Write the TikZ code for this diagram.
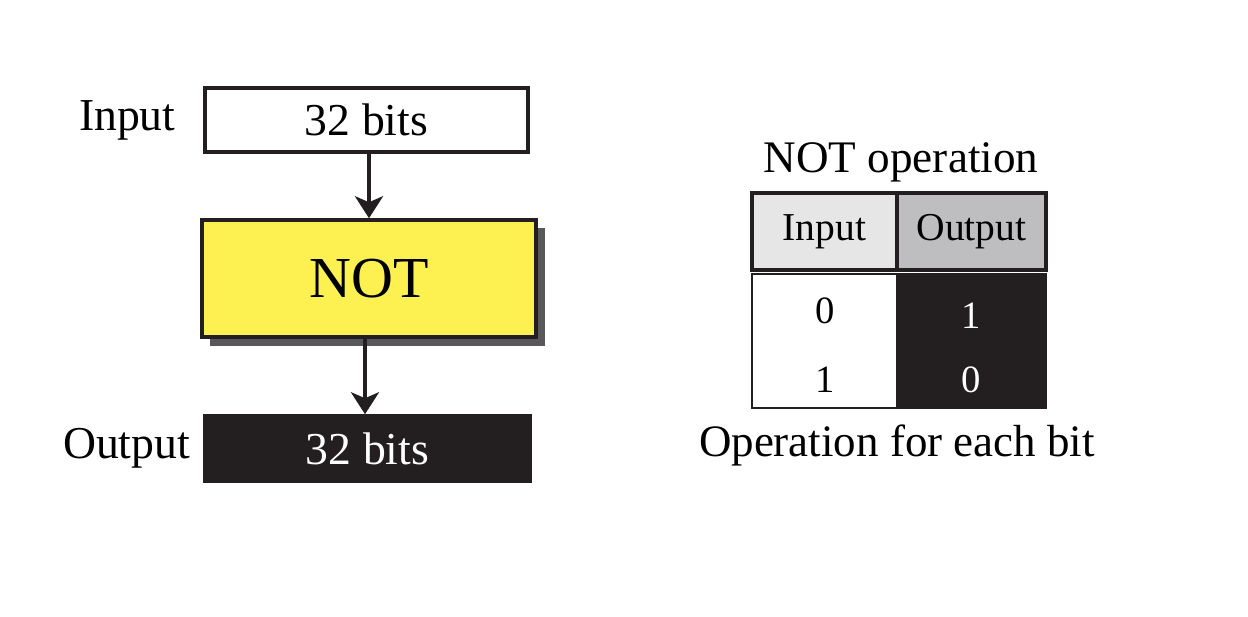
\documentclass[tikz,border=0pt]{standalone}
\usepackage{fontspec}
\setmainfont{Liberation Serif}
\usetikzlibrary{arrows, arrows.meta}
\usetikzlibrary{positioning}
\definecolor{notyellow}{RGB}{252,241,80}
\definecolor{shadowgray}{RGB}{88,88,90}
\definecolor{hdrleft}{RGB}{230,230,230}
\definecolor{hdrright}{RGB}{190,190,192}
\definecolor{ink}{RGB}{35,31,32}

\tikzset{
  box/.style={draw=ink, line width=2pt, inner sep=0pt},
  lbl/.style={inner sep=0pt, font=\fontsize{26}{26}\selectfont},
  cell/.style={draw=ink, inner sep=0pt, font=\fontsize{22.5}{22.5}\selectfont},
  digit/.style={inner sep=0pt, font=\fontsize{22}{22}\selectfont},
  flow/.style={ink, line width=2.2pt, -{Stealth[length=0.44cm, width=0.56cm, inset=0.12cm]}}
}

\begin{document}
\begin{tikzpicture}[x=0.02cm, y=-0.02cm]
\useasboundingbox (0,0) rectangle (1248,617);

\node[box, fill=white, minimum width=6.46cm, minimum height=1.28cm,
  font=\fontsize{26}{26}\selectfont] (in) at (366.5,120) {32 bits};
\fill[shadowgray] (210,228) rectangle (545,346);
\node[box, fill=notyellow, minimum width=6.68cm, minimum height=2.34cm,
  font=\fontsize{33}{33}\selectfont] (not) at (369,278.5) {NOT};
\node[box, fill=ink, text=white, minimum width=6.5cm, minimum height=1.3cm,
  font=\fontsize{26}{26}\selectfont] (out) at (367.5,448.5) {32 bits};

\node[lbl, left=0.55cm of in] (inlbl) {Input};
\node[lbl, left=0.26cm of out] (outlbl) {Output};

\draw[flow] (in.south -| not.north) -- (not.north);
\draw[flow] (365,337) coordinate (nb) -- (nb |- out.north);

% truth table
\node[font=\fontsize{25.7}{25.7}\selectfont, inner sep=0pt] (title) at (901,162) {NOT operation};
\node[cell, line width=2pt, fill=hdrleft, minimum width=2.9cm, minimum height=1.54cm] (hin) at (824.5,231.5) {Input};
\node[cell, line width=2pt, fill=hdrright, minimum width=2.98cm, minimum height=1.54cm] (hout) at (971.5,231.5) {Output};
\node[cell, line width=1.3pt, fill=white, minimum width=2.9cm, minimum height=2.68cm] (bin) at (824.5,341) {};
\node[cell, line width=1.3pt, fill=ink, minimum width=2.98cm, minimum height=2.68cm] (bout) at (971.5,341) {};

\node[digit] (a0) at (825,311) {0};
\node[digit] (a1) at (825,380) {1};
\node[digit, text=white] (b1) at (971,316) {1};
\node[digit, text=white] (b0) at (971,380) {0};

\node[font=\fontsize{25.6}{25.6}\selectfont, inner sep=0pt] (caption) at (897,445) {Operation for each bit};

\end{tikzpicture}
\end{document}
